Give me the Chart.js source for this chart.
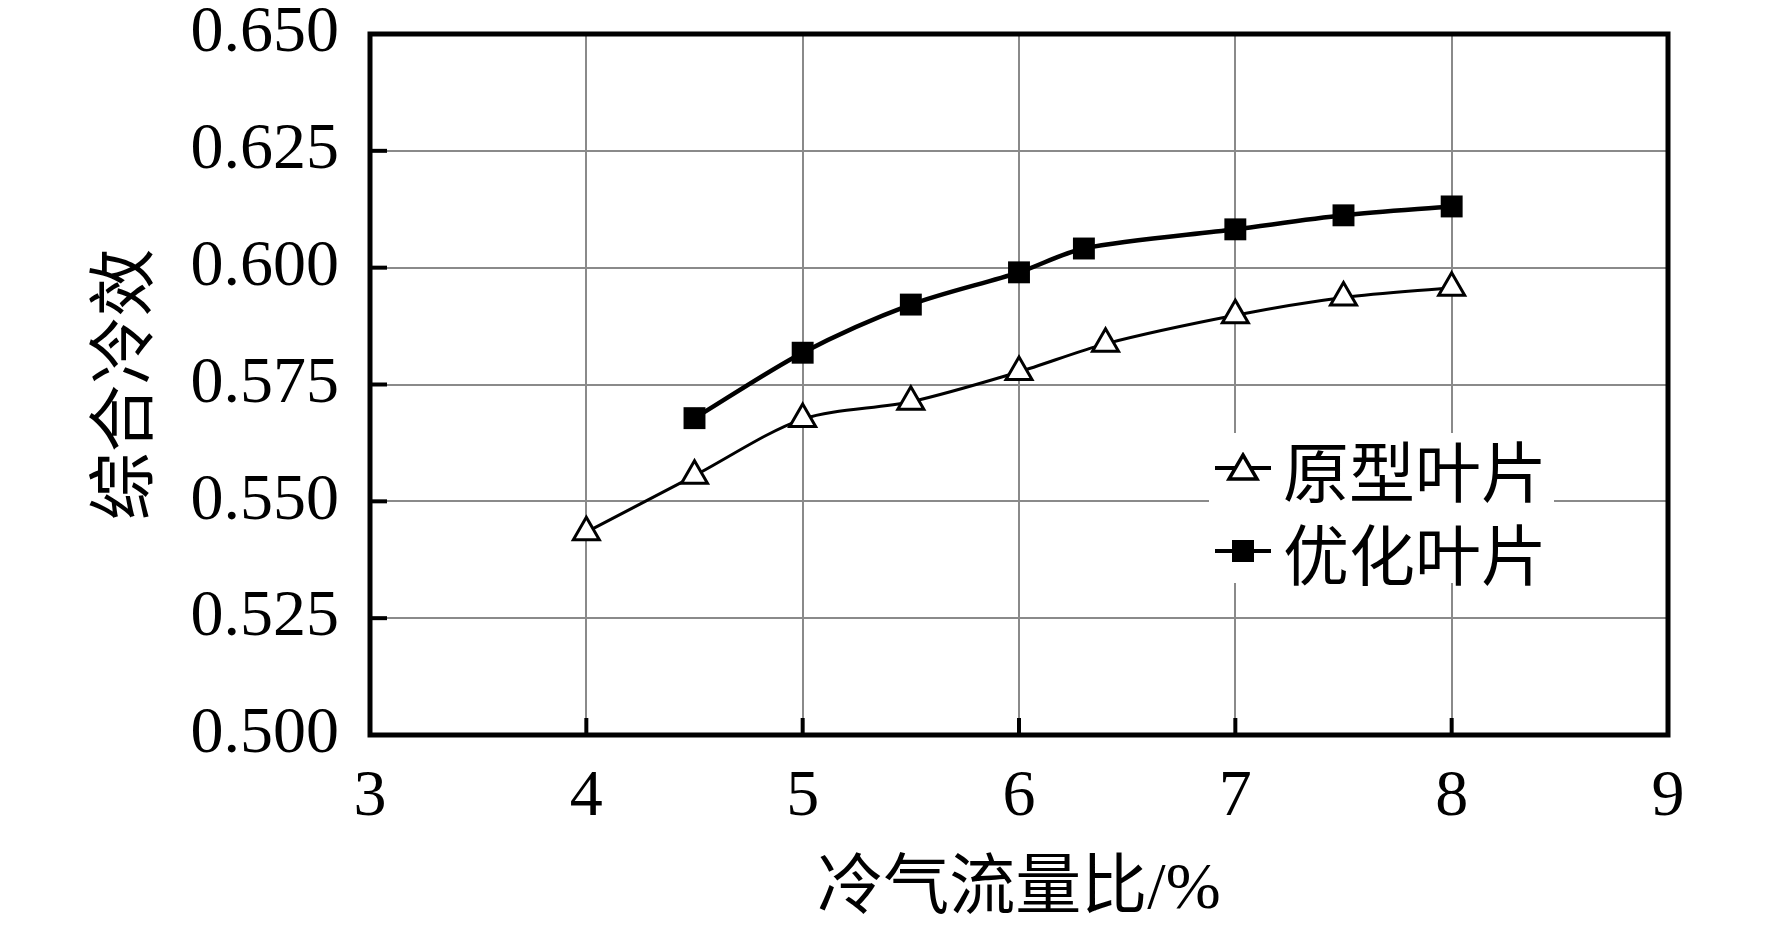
<!DOCTYPE html>
<html>
<head>
<meta charset="utf-8">
<script src="https://cdn.jsdelivr.net/npm/chart.js@4.4.1/dist/chart.umd.min.js"></script>
<style>
  html, body { margin: 0; padding: 0; background: #fff; }
  #wrap { position: relative; width: 1772px; height: 928px; }
  #legend { position: absolute; left: 1209px; top: 433px; width: 345px; height: 150px; background: #fff; }
  .lg-item { position: absolute; left: 6px; height: 70px; display: flex; align-items: center;
             font: 66px "Noto Sans CJK SC"; line-height: 1; color: #000; white-space: nowrap; }
  .lg-item svg { margin-right: 12px; }
</style>
</head>
<body>
<div id="wrap"><canvas id="c"></canvas><div id="legend"></div></div>
<script>
  // 座標軸刻度
  var X_TICKS = [3, 4, 5, 6, 7, 8, 9];
  var Y_TICKS = [0.500, 0.525, 0.550, 0.575, 0.600, 0.625, 0.650];
  var X_TITLE = '冷气流量比/%';
  var Y_TITLE = '综合冷效';

  // 系列
  var SERIES_NAMES = ['原型叶片', '优化叶片'];
  var PROTO_X = [4, 4.5, 5, 5.5, 6, 6.4, 7, 7.5, 8];
  var PROTO_Y = [0.5434, 0.5555, 0.5676, 0.5713, 0.5777, 0.5837, 0.5898, 0.5936, 0.5957];
  var OPT_X = [4.5, 5, 5.5, 6, 6.3, 7, 7.5, 8];
  var OPT_Y = [0.5678, 0.5818, 0.5921, 0.5990, 0.6041, 0.6082, 0.6112, 0.6131];

  var SERIF = '"Liberation Serif", "Noto Sans CJK SC", serif';

  function pts(xs, ys) { return xs.map(function (x, i) { return { x: x, y: ys[i] }; }); }

  /* 外框 + 朝內刻度 */
  var framePlugin = {
    id: 'frame',
    beforeDatasetsDraw: function (chart) {
      var ctx = chart.ctx, a = chart.chartArea;
      var xs = chart.scales.x, ys = chart.scales.y;
      ctx.save();
      ctx.strokeStyle = '#000';
      ctx.lineWidth = 4;
      X_TICKS.forEach(function (v) {
        var px = xs.getPixelForValue(v);
        ctx.beginPath(); ctx.moveTo(px, a.bottom); ctx.lineTo(px, a.bottom - 17); ctx.stroke();
      });
      Y_TICKS.forEach(function (v) {
        var py = ys.getPixelForValue(v);
        ctx.beginPath(); ctx.moveTo(a.left, py); ctx.lineTo(a.left + 17, py); ctx.stroke();
      });
      ctx.lineWidth = 5;
      ctx.strokeRect(a.left, a.top, a.right - a.left, a.bottom - a.top);
      ctx.restore();
    }
  };

  var chart = new Chart(document.getElementById('c').getContext('2d'), {
    type: 'line',
    data: {
      datasets: [{
        label: SERIES_NAMES[0],
        data: pts(PROTO_X, PROTO_Y),
        borderColor: '#000', borderWidth: 3, tension: 0.3,
        pointStyle: 'triangle', pointRadius: 15, pointBorderWidth: 3,
        pointBackgroundColor: '#fff', pointBorderColor: '#000',
      }, {
        label: SERIES_NAMES[1],
        data: pts(OPT_X, OPT_Y),
        borderColor: '#000', borderWidth: 4.5, tension: 0.3,
        pointStyle: 'rect', pointRadius: 15.5, pointBorderWidth: 0,
        pointBackgroundColor: '#000', pointBorderColor: '#000',
      }]
    },
    options: {
      responsive: true, maintainAspectRatio: false, animation: false,
      layout: { padding: { left: 20, right: 104, top: 34, bottom: 4 } },
      plugins: { legend: { display: false }, tooltip: { enabled: false } },
      scales: {
        x: {
          type: 'linear', min: 3, max: 9,
          afterBuildTicks: function (s) { s.ticks = X_TICKS.map(function (v) { return { value: v }; }); },
          afterFit: function (s) { s.height = 189; },
          grid: { color: '#8a8a8a', lineWidth: 2, drawTicks: false },
          border: { display: false },
          ticks: { color: '#000', padding: 30, maxRotation: 0, font: { family: SERIF, size: 66, lineHeight: 1 } },
          title: { display: true, text: X_TITLE, color: '#000', padding: { top: 30, bottom: 0 },
                   font: { family: SERIF, size: 66, lineHeight: 1 } },
        },
        y: {
          type: 'linear', min: 0.5, max: 0.65,
          afterBuildTicks: function (s) { s.ticks = Y_TICKS.map(function (v) { return { value: v }; }); },
          afterFit: function (s) { s.width = 350; s.paddingTop = 0; s.paddingBottom = 0; },
          grid: { color: '#8a8a8a', lineWidth: 2, drawTicks: false },
          border: { display: false },
          ticks: { color: '#000', padding: 31, font: { family: SERIF, size: 66, lineHeight: 1 },
                   callback: function (v) { return Number(v).toFixed(3); } },
          title: { display: true, text: Y_TITLE, color: '#000', padding: { top: 67, bottom: 0 },
                   font: { family: '"Noto Sans CJK SC", sans-serif', size: 68, lineHeight: 1 } },
        }
      }
    },
    plugins: [framePlugin]
  });

  /* 圖例(放在繪圖區內，白底) */
  var legend = document.getElementById('legend');
  chart.data.datasets.forEach(function (ds, i) {
    var mark = ds.pointStyle === 'triangle'
      ? '<polygon points="28,3 42,27 14,27" fill="#fff" stroke="#000" stroke-width="3.5"/>'
      : '<rect x="17" y="5" width="22" height="22" fill="#000"/>';
    var item = document.createElement('div');
    item.className = 'lg-item';
    item.style.top = (i === 0 ? 0 : 83) + 'px';
    item.innerHTML = '<svg width="56" height="32" viewBox="0 0 56 32">' +
      '<line x1="0" y1="16" x2="56" y2="16" stroke="#000" stroke-width="4"/>' + mark + '</svg>' +
      '<span>' + ds.label + '</span>';
    legend.appendChild(item);
  });
</script>
</body>
</html>
